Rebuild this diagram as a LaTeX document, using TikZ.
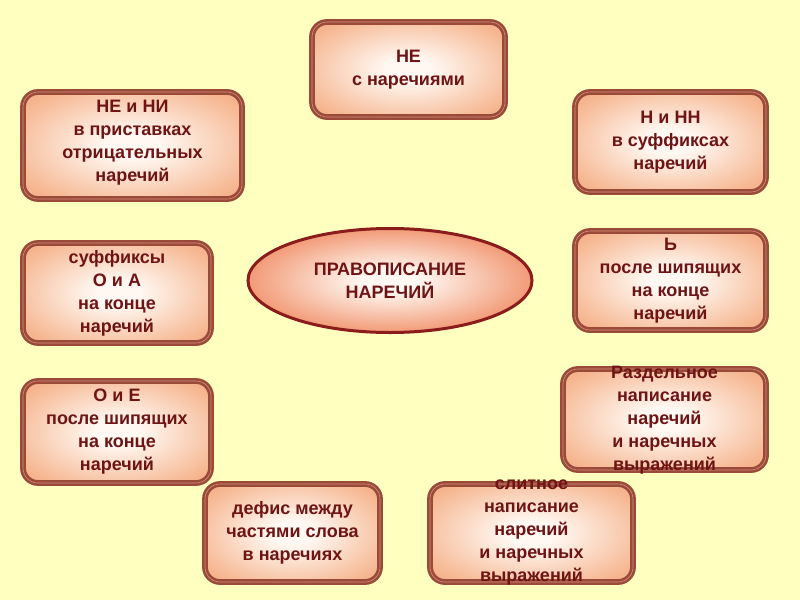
\documentclass[tikz,border=0pt]{standalone}
\usepackage{fontspec}
\setmainfont{Liberation Sans}
\usetikzlibrary{shapes.geometric}
\definecolor{bg}{HTML}{FFFFC0}
\definecolor{edgefill}{HTML}{F6B690}
\definecolor{centerfill}{HTML}{FFF8F2}
\definecolor{bordc}{HTML}{9A4A38}
\definecolor{bordin}{HTML}{D8907A}
\definecolor{txt}{HTML}{6E1414}
\definecolor{ellfill}{HTML}{F29A76}
\definecolor{ellbord}{HTML}{8A1C1C}
\pgfdeclareradialshading{boxshade}{\pgfpoint{0bp}{0bp}}{%
  color(0bp)=(centerfill); color(6bp)=(centerfill); color(30bp)=(edgefill); color(50bp)=(edgefill!85!red!90!black)}
\pgfdeclareradialshading{ellshade}{\pgfpoint{0bp}{0bp}}{%
  color(0bp)=(centerfill); color(5bp)=(centerfill); color(25bp)=(ellfill); color(50bp)=(ellfill)}
\tikzset{
  topic/.style={rounded corners=15pt, shading=boxshade,
    draw=bordc, line width=2.6pt, double=bordin, double distance=0.6pt},
  lbl/.style={text=txt, font=\bfseries\fontsize{18}{23}\selectfont, align=center, inner sep=0pt}
}
\begin{document}
\begin{tikzpicture}[x=1pt,y=-1pt]
\fill[bg] (0,0) rectangle (800,600);
\useasboundingbox (0,0) rectangle (800,600);
% boxes
\path[topic] (312,22) rectangle (505,117);
\node[lbl] (ne) at (408.5,69.5) {НЕ\\с наречиями};
\path[topic] (23,92) rectangle (242,199);
\node[lbl] (neni) at (132.5,143) {НЕ и НИ\\в приставках\\отрицательных\\наречий};
\path[topic] (575,92) rectangle (766,192);
\node[lbl] (nnn) at (670.5,142) {Н и НН\\в суффиксах\\наречий};
\path[topic] (23,243) rectangle (211,343);
\node[lbl] (suff) at (117,293) {суффиксы\\О и А\\на конце\\наречий};
\path[topic] (575,231) rectangle (766,330);
\node[lbl] (soft) at (670.5,280.5) {Ь\\после шипящих\\на конце\\наречий};
\path[topic] (23,381) rectangle (211,483);
\node[lbl] (oe) at (117,432) {О и Е\\после шипящих\\на конце\\наречий};
\path[topic] (563,369) rectangle (766,470);
\node[lbl] (razd) at (664.5,420) {Раздельное\\написание\\наречий\\и наречных\\выражений};
\path[topic] (205,484) rectangle (380,582);
\node[lbl] (defis) at (292.5,533) {дефис между\\частями слова\\в наречиях};
\path[topic] (430,484) rectangle (633,582);
\node[lbl] (slit) at (531.5,533) {слитное\\написание\\наречий\\и наречных\\выражений};
% center ellipse
\path[shading=ellshade, draw=ellbord, line width=3pt]
  (390,280.5) ellipse [x radius=142, y radius=52];
\node[lbl] (center) at (390,280.5) {ПРАВОПИСАНИЕ\\НАРЕЧИЙ};
\end{tikzpicture}
\end{document}
